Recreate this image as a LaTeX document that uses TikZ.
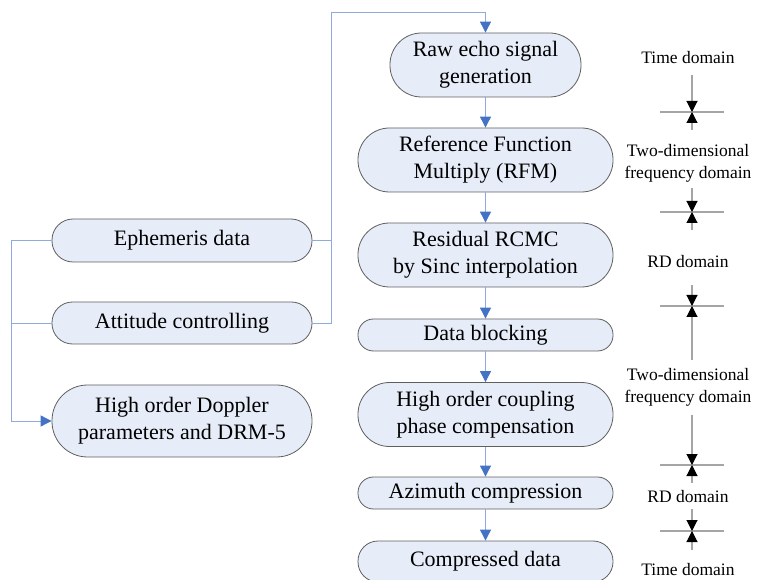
\documentclass[tikz,border=0pt]{standalone}
\usepackage{fontspec}
\setmainfont{Liberation Serif}
\usetikzlibrary{arrows.meta}
\definecolor{boxfill}{RGB}{231,237,248}
\definecolor{boxdraw}{RGB}{95,95,95}
\definecolor{linkline}{RGB}{143,170,220}
\definecolor{linktip}{RGB}{68,114,196}
\definecolor{markline}{RGB}{165,165,165}
\tikzset{
  proc/.style={draw=boxdraw, fill=boxfill, line width=0.8pt, align=center, inner sep=0pt,
    font=\fontsize{22}{27}\selectfont},
  dom/.style={align=center, inner sep=0pt, font=\fontsize{17.5}{22}\selectfont},
  link/.style={draw=linkline, line width=0.9pt},
  linkarrow/.style={link, -{Triangle[length=11pt,width=11pt,linktip]}},
  markl/.style={draw=markline, line width=1.1pt},
  markarrow/.style={markl, -{Triangle[length=11pt,width=11pt,black]}}
}
\begin{document}
\begin{tikzpicture}[x=1pt,y=-1pt]
\useasboundingbox (0,0) rectangle (764,580);
% centre column
\node[proc, minimum width=191pt, minimum height=64pt, rounded corners=31.5pt] (raw) at (485.5,65) {Raw echo signal\\generation};
\node[proc, minimum width=255pt, minimum height=64pt, rounded corners=31.5pt] (rfm) at (485.5,160) {Reference Function\\Multiply (RFM)};
\node[proc, minimum width=255pt, minimum height=64pt, rounded corners=31.5pt] (rcmc) at (485.5,255) {Residual RCMC\\by Sinc interpolation};
\node[proc, minimum width=255pt, minimum height=32pt, rounded corners=15.5pt] (blk) at (485.5,335) {Data blocking};
\node[proc, minimum width=255pt, minimum height=64pt, rounded corners=31.5pt] (hoc) at (485.5,414.5) {High order coupling\\phase compensation};
\node[proc, minimum width=255pt, minimum height=32pt, rounded corners=15.5pt] (azi) at (485.5,493) {Azimuth compression};
\node[proc, minimum width=255pt, minimum height=41pt, rounded corners=20pt] (cmp) at (485.5,561.5) {Compressed data};
% left column
\node[proc, minimum width=260pt, minimum height=43pt, rounded corners=21pt] (eph) at (182,240.5) {Ephemeris data};
\node[proc, minimum width=260pt, minimum height=42pt, rounded corners=20.5pt] (att) at (182,323) {Attitude controlling};
\node[proc, minimum width=260pt, minimum height=72pt, rounded corners=35.5pt] (dop) at (182,421) {High order Doppler\\parameters and DRM-5};
% centre arrows
\draw[linkarrow] (raw) -- (rfm);
\draw[linkarrow] (rfm) -- (rcmc);
\draw[linkarrow] (rcmc) -- (blk);
\draw[linkarrow] (blk) -- (hoc);
\draw[linkarrow] (hoc) -- (azi);
\draw[linkarrow] (azi) -- (cmp);
% right bus to raw echo
\coordinate (rbus) at (331,240.5);
\coordinate (rtop) at (331,12);
\draw[link] (eph.east) -- (rbus);
\draw[linkarrow] (att.east) -| (rtop) -| (raw.north);
% left bus to doppler
\coordinate (lbus) at (11,323);
\coordinate (ltop) at (11,240.5);
\draw[link] (att.west) -- (lbus);
\draw[linkarrow] (eph.west) -- (ltop) |- (dop.west);
% domain labels
\node[dom] (d1) at (688,58) {Time domain};
\node[dom] (d2) at (688,163) {Two-dimensional\\frequency domain};
\node[dom] (d3) at (688,262) {RD domain};
\node[dom] (d4) at (688,387.5) {Two-dimensional\\frequency domain};
\node[dom] (d5) at (688,497) {RD domain};
\node[dom] (d6) at (688,569.5) {Time domain};
% domain markers
\foreach \n/\a/\c/\b in {1/75/112/130, 2/188/212/230, 3/285/306/360, 4/415/465/483, 5/509/531/550} {
  \coordinate (mt\n) at (692,\a);
  \coordinate (mc\n) at (692,\c);
  \coordinate (mb\n) at (692,\b);
  \coordinate (ml\n) at (660,\c);
  \coordinate (mr\n) at (724,\c);
  \draw[markl] (ml\n) -- (mr\n);
  \draw[markarrow] (mt\n) -- (mc\n);
  \draw[markarrow] (mb\n) -- (mc\n);
}
\end{tikzpicture}
\end{document}
